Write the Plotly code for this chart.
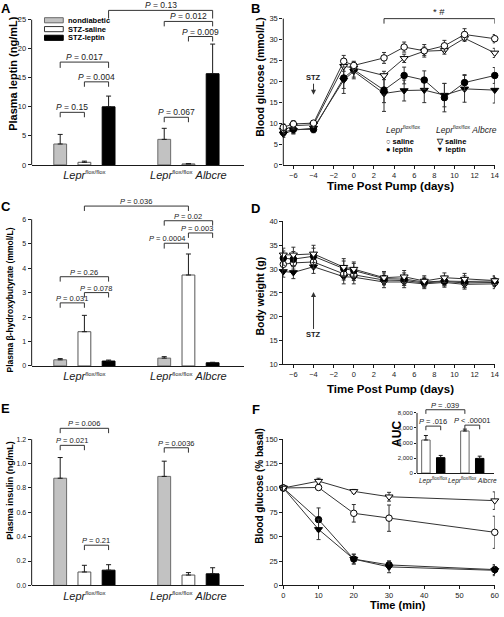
import plotly.graph_objects as go

W, H = 504, 617
FONT = "Liberation Sans, Arial, Helvetica, sans-serif"
INK = "#1a1a1a"

# ---------------- data ----------------
groups = ["nondiabetic", "STZ-saline", "STZ-leptin"]
SUP = "<sup><span style='font-size:6px'>flox/flox</span></sup>"
genotypes = ["<i>Lepr</i>" + SUP,
             "<i>Lepr</i>" + SUP + " <i>Albcre</i>"]
genotype_centers = [2.0, 6.3]
bar_positions = {"nondiabetic": [1.0, 5.3], "STZ-saline": [2.0, 6.3], "STZ-leptin": [3.0, 7.3]}

# A: plasma leptin (ng/mL)  [Lepr flox/flox, Lepr flox/flox Albcre]
leptin_nondiabetic = [3.6, 4.4]
leptin_nondiabetic_sem = [1.65, 1.9]
leptin_saline = [0.45, 0.17]
leptin_saline_sem = [0.2, 0.05]
leptin_leptin = [10.0, 15.7]
leptin_leptin_sem = [1.85, 5.1]

# C: plasma beta-hydroxybutyrate (mmol/L)
bhb_nondiabetic = [0.25, 0.32]
bhb_nondiabetic_sem = [0.05, 0.06]
bhb_saline = [1.4, 3.72]
bhb_saline_sem = [0.67, 0.86]
bhb_leptin = [0.2, 0.13]
bhb_leptin_sem = [0.04, 0.02]

# E: plasma insulin (ng/mL)
ins_nondiabetic = [0.88, 0.895]
ins_nondiabetic_sem = [0.17, 0.125]
ins_saline = [0.11, 0.085]
ins_saline_sem = [0.055, 0.02]
ins_leptin = [0.125, 0.095]
ins_leptin_sem = [0.045, 0.05]

# significance brackets: (group a, genotype a, group b, genotype b, y, leg, label)
brackets_A = [
    ("nondiabetic", 0, "STZ-saline", 0, 9.05, 0.85, "= 0.15"),
    ("STZ-saline", 0, "STZ-leptin", 0, 14.3, 0.85, "= 0.004"),
    ("nondiabetic", 0, "STZ-leptin", 0, 17.7, 1.0, "= 0.017"),
    ("nondiabetic", 1, "STZ-saline", 1, 8.2, 0.85, "= 0.067"),
    ("STZ-saline", 1, "STZ-leptin", 1, 22.1, 0.85, "= 0.009"),
    ("nondiabetic", 1, "STZ-leptin", 1, 24.7, 0.85, "= 0.012"),
    ("STZ-leptin", 0, "STZ-leptin", 1, 26.6, 1.4, "= 0.13"),
]
brackets_C = [
    ("nondiabetic", 0, "STZ-saline", 0, 2.58, 0.2, "= 0.031"),
    ("STZ-saline", 0, "STZ-leptin", 0, 3.0, 0.2, "= 0.078"),
    ("nondiabetic", 0, "STZ-leptin", 0, 3.65, 0.2, "= 0.26"),
    ("nondiabetic", 1, "STZ-saline", 1, 5.02, 0.22, "= 0.0004"),
    ("STZ-saline", 1, "STZ-leptin", 1, 5.44, 0.2, "= 0.003"),
    ("nondiabetic", 1, "STZ-leptin", 1, 5.94, 0.2, "= 0.02"),
    ("STZ-saline", 0, "STZ-saline", 1, 6.54, 0.2, "= 0.036"),
]
brackets_E = [
    ("nondiabetic", 0, "STZ-saline", 0, 1.15, 0.04, "= 0.021"),
    ("nondiabetic", 0, "STZ-leptin", 0, 1.29, 0.04, "= 0.006"),
    ("STZ-saline", 0, "STZ-leptin", 0, 0.33, 0.04, "= 0.21"),
    ("nondiabetic", 1, "STZ-saline", 1, 1.13, 0.04, "= 0.0036"),
]
# labels that sit off-centre on their bracket in the original (pixel shift)
label_shift = {"= 0.0004": -9, "= 0.003": -4}

# B: blood glucose (mmol/L) vs time post pump (days)
days = [-7, -6, -4, -1, 0, 3, 5, 7, 9, 11, 14]
bg_lepr_saline = [9.0, 9.8, 10.0, 24.8, 23.8, 25.6, 28.2, 27.3, 28.5, 31.2, 30.2]
bg_lepr_saline_sem = [0.8, 0.8, 0.6, 1.4, 1.0, 1.3, 1.2, 1.5, 1.3, 1.4, 1.0]
bg_lepr_leptin = [7.8, 8.5, 8.5, 20.8, 22.8, 17.9, 21.4, 20.3, 16.1, 19.7, 21.4]
bg_lepr_leptin_sem = [0.8, 1.0, 0.8, 2.5, 1.8, 3.0, 2.0, 2.2, 3.4, 1.9, 1.9]
bg_alb_saline = [8.3, 9.4, 9.6, 23.6, 23.2, 21.4, 25.5, 27.2, 27.4, 30.3, 26.8]
bg_alb_saline_sem = [0.8, 0.8, 0.6, 1.2, 1.0, 1.0, 1.0, 1.0, 0.9, 0.7, 1.1]
bg_alb_leptin = [7.4, 8.3, 8.8, 20.3, 22.4, 17.1, 17.8, 17.9, 16.7, 18.2, 17.9]
bg_alb_leptin_sem = [0.8, 0.9, 0.8, 3.2, 1.8, 4.3, 2.5, 3.0, 2.8, 3.2, 3.1]
stz_day = -4

# D: body weight (g)
bw_lepr_saline = [31.0, 31.3, 31.5, 29.0, 28.8, 27.7, 27.6, 27.1, 27.4, 27.1, 27.2]
bw_lepr_saline_sem = [1.2, 1.3, 1.3, 1.3, 1.2, 1.0, 1.0, 0.9, 0.9, 1.0, 0.9]
bw_lepr_leptin = [32.3, 32.1, 32.7, 30.1, 29.7, 28.0, 27.9, 27.3, 27.5, 27.4, 27.5]
bw_lepr_leptin_sem = [1.5, 1.6, 1.7, 1.6, 1.5, 1.2, 1.3, 1.0, 1.0, 1.2, 1.0]
bw_alb_saline = [33.0, 33.0, 33.2, 30.4, 30.0, 28.2, 28.4, 27.5, 28.2, 27.9, 27.6]
bw_alb_saline_sem = [1.4, 1.6, 1.8, 1.8, 1.5, 1.3, 1.3, 1.1, 1.0, 1.2, 1.0]
bw_alb_leptin = [29.5, 29.3, 30.5, 28.4, 28.3, 27.3, 27.3, 26.9, 27.2, 26.8, 26.9]
bw_alb_leptin_sem = [1.2, 1.3, 1.4, 1.5, 1.4, 1.2, 1.2, 1.0, 1.0, 1.0, 1.0]

# F: insulin tolerance, blood glucose (% basal) vs time (min)
minutes = [0, 10, 20, 30, 60]
itt_lepr_saline = [100, 100.5, 74, 69, 54.5]
itt_lepr_saline_sem = [0, 2, 9, 13.5, 16.5]
itt_lepr_leptin = [100, 67.5, 27, 21, 16.2]
itt_lepr_leptin_sem = [0, 12, 5, 4, 5]
itt_alb_saline = [100, 107, 96.5, 91, 87]
itt_alb_saline_sem = [0, 3, 2, 4.5, 9]
itt_alb_leptin = [100, 57.5, 27, 19, 15.5]
itt_alb_leptin_sem = [0, 10.5, 5, 6, 5.5]

# F inset: AUC
auc_positions = {"saline": [1.0, 3.63], "leptin": [2.0, 4.63]}
auc_centers = [1.5, 4.13]
auc_saline = [4400, 5600]
auc_saline_sem = [600, 250]
auc_leptin = [2050, 1950]
auc_leptin_sem = [300, 300]
brackets_auc = [
    ("saline", 0, "leptin", 0, 6250, 550, "= .016"),
    ("saline", 1, "leptin", 1, 6380, 550, "< .00001"),
    ("saline", 0, "saline", 1, 8430, 550, "= .039"),
]

# ---------------- styles ----------------
bar_fill = {"nondiabetic": "#c2c2c2", "STZ-saline": "#ffffff", "STZ-leptin": "#000000"}
bar_edge = {"nondiabetic": "#6a6a6a", "STZ-saline": "#555555", "STZ-leptin": "#000000"}


def pxx(p):
    return p / W


def pxy(p):
    return 1 - p / H


fig = go.Figure()
shapes = []
annotations = []


def add_brackets(xa, ya, positions, brackets, psize):
    for ga, ia, gb, ib, y, leg, label in brackets:
        x0 = positions[ga][ia]
        x1 = positions[gb][ib]
        shapes.append(dict(type="path",
                           path=f"M {x0},{y - leg} L {x0},{y} L {x1},{y} L {x1},{y - leg}",
                           xref=xa, yref=ya, line=dict(color="#333333", width=1)))
        annotations.append(dict(x=(x0 + x1) / 2, y=y, xref=xa, yref=ya, text=f"<i>P</i> {label}",
                                showarrow=False, yanchor="bottom", xanchor="center", yshift=-2,
                                xshift=label_shift.get(label, 0),
                                font=dict(size=psize, color=INK, family=FONT)))


def add_bar_panel(xa, ya, means, sems, brackets, psize):
    for g in groups:
        fig.add_trace(go.Bar(
            x=bar_positions[g], y=means[g], width=0.53,
            marker=dict(color=bar_fill[g], line=dict(color=bar_edge[g], width=1)),
            error_y=dict(type="data", array=sems[g], arrayminus=[0] * len(sems[g]),
                         symmetric=False, color=INK, thickness=1, width=2.5),
            xaxis=xa, yaxis=ya, showlegend=False, hoverinfo="skip", name=g))
    add_brackets(xa, ya, bar_positions, brackets, psize)


add_bar_panel("x", "y",
              {"nondiabetic": leptin_nondiabetic, "STZ-saline": leptin_saline, "STZ-leptin": leptin_leptin},
              {"nondiabetic": leptin_nondiabetic_sem, "STZ-saline": leptin_saline_sem, "STZ-leptin": leptin_leptin_sem},
              brackets_A, 8.5)
add_bar_panel("x3", "y3",
              {"nondiabetic": bhb_nondiabetic, "STZ-saline": bhb_saline, "STZ-leptin": bhb_leptin},
              {"nondiabetic": bhb_nondiabetic_sem, "STZ-saline": bhb_saline_sem, "STZ-leptin": bhb_leptin_sem},
              brackets_C, 7.5)
add_bar_panel("x5", "y5",
              {"nondiabetic": ins_nondiabetic, "STZ-saline": ins_saline, "STZ-leptin": ins_leptin},
              {"nondiabetic": ins_nondiabetic_sem, "STZ-saline": ins_saline_sem, "STZ-leptin": ins_leptin_sem},
              brackets_E, 7.5)

series_style = {
    "lepr_saline": dict(symbol="circle", color="#ffffff", size=6.5),
    "lepr_leptin": dict(symbol="circle", color="#000000", size=6.5),
    "alb_saline": dict(symbol="triangle-down", color="#ffffff", size=7),
    "alb_leptin": dict(symbol="triangle-down", color="#000000", size=7),
}


def add_line(xa, ya, x, y, sem, key):
    st = series_style[key]
    fig.add_trace(go.Scatter(
        x=x, y=y, mode="lines+markers", xaxis=xa, yaxis=ya,
        line=dict(color="#333333", width=1),
        marker=dict(symbol=st["symbol"], size=st["size"], color=st["color"],
                    line=dict(color="#000000", width=1)),
        error_y=dict(type="data", array=sem, color="#333333", thickness=1, width=2),
        cliponaxis=False, showlegend=False, hoverinfo="skip"))


for key, y, s in [("alb_leptin", bg_alb_leptin, bg_alb_leptin_sem),
                  ("lepr_leptin", bg_lepr_leptin, bg_lepr_leptin_sem),
                  ("alb_saline", bg_alb_saline, bg_alb_saline_sem),
                  ("lepr_saline", bg_lepr_saline, bg_lepr_saline_sem)]:
    add_line("x2", "y2", days, y, s, key)

for key, y, s in [("alb_leptin", bw_alb_leptin, bw_alb_leptin_sem),
                  ("lepr_saline", bw_lepr_saline, bw_lepr_saline_sem),
                  ("lepr_leptin", bw_lepr_leptin, bw_lepr_leptin_sem),
                  ("alb_saline", bw_alb_saline, bw_alb_saline_sem)]:
    add_line("x4", "y4", days, y, s, key)

for key, y, s in [("lepr_leptin", itt_lepr_leptin, itt_lepr_leptin_sem),
                  ("alb_leptin", itt_alb_leptin, itt_alb_leptin_sem),
                  ("lepr_saline", itt_lepr_saline, itt_lepr_saline_sem),
                  ("alb_saline", itt_alb_saline, itt_alb_saline_sem)]:
    add_line("x6", "y6", minutes, y, s, key)

# inset AUC bars
fig.add_trace(go.Bar(x=auc_positions["saline"], y=auc_saline, width=0.57, xaxis="x7", yaxis="y7",
                     marker=dict(color="#ffffff", line=dict(color="#666666", width=1)),
                     error_y=dict(type="data", array=auc_saline_sem, arrayminus=[0, 0], symmetric=False,
                                  color=INK, thickness=1, width=2),
                     showlegend=False, hoverinfo="skip"))
fig.add_trace(go.Bar(x=auc_positions["leptin"], y=auc_leptin, width=0.57, xaxis="x7", yaxis="y7",
                     marker=dict(color="#000000", line=dict(color="#000000", width=1)),
                     error_y=dict(type="data", array=auc_leptin_sem, arrayminus=[0, 0], symmetric=False,
                                  color=INK, thickness=1, width=2),
                     showlegend=False, hoverinfo="skip"))
add_brackets("x7", "y7", auc_positions, brackets_auc, 7.5)

# ---------------- axes ----------------
xbar_dom = [pxx(30), pxx(245)]
xline_dom = [pxx(284.7), pxx(498.7)]


def bar_xaxis(anchor):
    return dict(domain=xbar_dom, range=[-0.18, 8.6], anchor=anchor, tickvals=genotype_centers,
                ticktext=genotypes, ticks="", showline=True, linecolor=INK, linewidth=1,
                showgrid=False, zeroline=False, tickfont=dict(size=11, color=INK, family=FONT))


def yax(anchor, domain, rng, tickvals, showline=False, fmt=None, size=7.5):
    d = dict(domain=domain, range=rng, anchor=anchor, tickvals=tickvals, ticks="outside",
             ticklen=3, tickwidth=1, tickcolor=INK, showline=showline, linecolor=INK, linewidth=1,
             showgrid=False, zeroline=False, tickfont=dict(size=size, color=INK, family=FONT))
    if fmt:
        d["tickformat"] = fmt
    return d


def line_xaxis(anchor, rng, tickvals):
    return dict(domain=xline_dom, range=rng, anchor=anchor, tickvals=tickvals, ticks="outside",
                ticklen=3, tickwidth=1, tickcolor=INK, showline=True, linecolor=INK, linewidth=1,
                showgrid=False, zeroline=False, tickfont=dict(size=7.5, color=INK, family=FONT))


ticks_A = [0, 5, 10, 15, 20, 25]
ticks_B = [0, 5, 10, 15, 20, 25, 30, 35]
ticks_C = [0, 1, 2, 3, 4, 5, 6]
ticks_D = [10, 15, 20, 25, 30, 35, 40]
ticks_E = [0, 0.2, 0.4, 0.6, 0.8, 1.0, 1.2]
ticks_F = [0, 25, 50, 75, 100, 125, 150]
ticks_auc = [0, 2000, 4000, 6000, 8000]
day_ticks = [-6, -4, -2, 0, 2, 4, 6, 8, 10, 12, 14]
min_ticks = [0, 10, 20, 30, 40, 50, 60]

layout_axes = dict(
    xaxis=bar_xaxis("y"),
    yaxis=yax("x", [pxy(163.3), 1], [0, 27.7], ticks_A),
    xaxis2=line_xaxis("y2", [-7, 14], day_ticks),
    yaxis2=yax("x2", [pxy(163.3), 1], [0, 38.5], ticks_B),
    xaxis3=bar_xaxis("y3"),
    yaxis3=yax("x3", [pxy(367.3), pxy(188.7)], [0, 7.2], ticks_C, size=7),
    xaxis4=line_xaxis("y4", [-7, 14], day_ticks),
    yaxis4=yax("x4", [pxy(365.7), pxy(220.7)], [10, 40], ticks_D, showline=True),
    xaxis5=bar_xaxis("y5"),
    yaxis5=yax("x5", [pxy(590), pxy(410.8)], [0, 1.45], ticks_E, fmt=".1f", size=7),
    xaxis6=line_xaxis("y6", [0, 60], min_ticks),
    yaxis6=yax("x6", [pxy(590), pxy(441.7)], [0, 150], ticks_F, showline=True),
    xaxis7=dict(domain=[pxx(420), pxx(498)], range=[0.4, 5.6], anchor="y7", tickvals=auc_centers,
                ticktext=["", ""], ticks="", showline=True, linecolor=INK, linewidth=1,
                showgrid=False, zeroline=False, tickfont=dict(size=6.5, color=INK, family=FONT)),
    yaxis7=yax("x7", [pxy(476), pxy(407.4)], [0, 9000], ticks_auc, fmt=",d", size=6),
)
layout_axes["yaxis7"]["ticklen"] = 2

# inset category labels (written under the inset axis)
SUP_S = "<sup><span style='font-size:4.5px'>flox/flox</span></sup>"
for c, txt in zip(auc_centers, ["<i>Lepr</i>" + SUP_S, "<i>Lepr</i>" + SUP_S + " <i>Albcre</i>"]):
    annotations.append(dict(x=c, y=0, xref="x7", yref="y7", text=txt, showarrow=False,
                            yanchor="top", yshift=-1, font=dict(size=6.5, color=INK, family=FONT)))

# y axis lines ending at the top tick (extra headroom holds the brackets)
for xa, ya, tv in [("x", "y", ticks_A), ("x2", "y2", ticks_B), ("x3", "y3", ticks_C),
                   ("x5", "y5", ticks_E), ("x7", "y7", ticks_auc)]:
    shapes.append(dict(type="line", xref=f"{xa} domain", yref=ya, x0=0, x1=0,
                       y0=min(tv), y1=max(tv), line=dict(color=INK, width=1)))

# B: bracket over days 3..14
shapes.append(dict(type="path", path="M 3,33.8 L 3,35 L 14,35 L 14,33.8", xref="x2", yref="y2",
                   line=dict(color="#333333", width=1)))
annotations.append(dict(x=8.5, y=35, xref="x2", yref="y2", text="* #", showarrow=False,
                        yanchor="bottom", yshift=0, font=dict(size=9.5, color=INK, family=FONT)))

# STZ arrows
annotations.append(dict(x=stz_day, y=16.8, xref="x2", yref="y2", text="<b>STZ</b>", showarrow=True,
                        ax=0, ay=-17, arrowhead=2, arrowsize=1, arrowwidth=1, arrowcolor="#333333",
                        font=dict(size=7.5, color=INK, family=FONT)))
annotations.append(dict(x=stz_day, y=25.2, xref="x4", yref="y4", text="<b>STZ</b>", showarrow=True,
                        ax=0, ay=43, arrowhead=2, arrowsize=1, arrowwidth=1, arrowcolor="#333333",
                        font=dict(size=7.5, color=INK, family=FONT)))

# panel letters
for letter, x, y in [("A", 4, 5), ("B", 257, 5), ("C", 4, 206), ("D", 257, 208), ("E", 4, 410), ("F", 257, 412)]:
    annotations.append(dict(x=pxx(x), y=pxy(y), xref="paper", yref="paper", text=f"<b>{letter}</b>",
                            showarrow=False, xanchor="center", yanchor="middle",
                            font=dict(size=13, color="#000000", family=FONT)))


def title(text, x, y, size, angle=0):
    annotations.append(dict(x=pxx(x), y=pxy(y), xref="paper", yref="paper", text=f"<b>{text}</b>",
                            showarrow=False, xanchor="center", yanchor="middle", textangle=angle,
                            font=dict(size=size, color="#000000", family=FONT)))


title("Plasma leptin (ng/mL)", 11, 70, 11, -90)
title("Blood glucose (mmol/L)", 261, 74, 10.5, -90)
title("Time Post Pump (days)", 393, 184.5, 11.5)
title("Plasma β-hydroxybutyrate (mmol/L)", 8, 300, 8.5, -90)
title("Body weight (g)", 261, 296, 10.5, -90)
title("Time Post Pump (days)", 393, 390.5, 11.5)
title("Plasma insulin (ng/mL)", 8, 493, 9, -90)
title("Blood glucose (% basal)", 261, 489, 10, -90)
title("Time (min)", 401, 609.5, 11)
title("AUC", 399, 436, 12, -90)

# A legend (drawn swatches)
for g, row in zip(groups, [16.5, 25.5, 34.3]):
    shapes.append(dict(type="rect", xref="paper", yref="paper", x0=pxx(43), x1=pxx(62),
                       y0=pxy(row + 2.6), y1=pxy(row - 2.6), fillcolor=bar_fill[g],
                       line=dict(color=bar_edge[g] if g != "STZ-saline" else "#333333", width=1)))
    annotations.append(dict(x=pxx(65), y=pxy(row), xref="paper", yref="paper", text=f"<b>{g}</b>",
                            showarrow=False, xanchor="left", yanchor="middle",
                            font=dict(size=7.5, color="#000000", family=FONT)))

# B legend
leg_font = dict(size=7.5, color="#000000", family=FONT)
gen_font = dict(size=8.5, color=INK, family=FONT)
SUP_B = "<sup><span style='font-size:5px'>flox/flox</span></sup>"
for text, x, y, f in [
    ("<i>Lepr</i>" + SUP_B, 387, 127.7, gen_font),
    ("<b>○ saline</b>", 387, 139.5, leg_font),
    ("<b>● leptin</b>", 387, 148, leg_font),
    ("<i>Lepr</i>" + SUP_B + " <i>Albcre</i>", 437, 127.7, gen_font),
    ("<b>▽ saline</b>", 437, 139.5, leg_font),
    ("<b>▼ leptin</b>", 437, 148, leg_font),
]:
    annotations.append(dict(x=pxx(x), y=pxy(y), xref="paper", yref="paper", text=text, showarrow=False,
                            xanchor="left", yanchor="middle", font=f))

fig.update_layout(
    width=W, height=H, margin=dict(l=0, r=0, t=0, b=0),
    paper_bgcolor="#ffffff", plot_bgcolor="rgba(0,0,0,0)",
    barmode="overlay", showlegend=False,
    font=dict(family=FONT, color=INK),
    shapes=shapes, annotations=annotations,
    **layout_axes,
)

fig.write_html("out.html", config={"displayModeBar": False},
               post_script="document.body.style.margin='0';document.body.style.overflow='hidden';")
